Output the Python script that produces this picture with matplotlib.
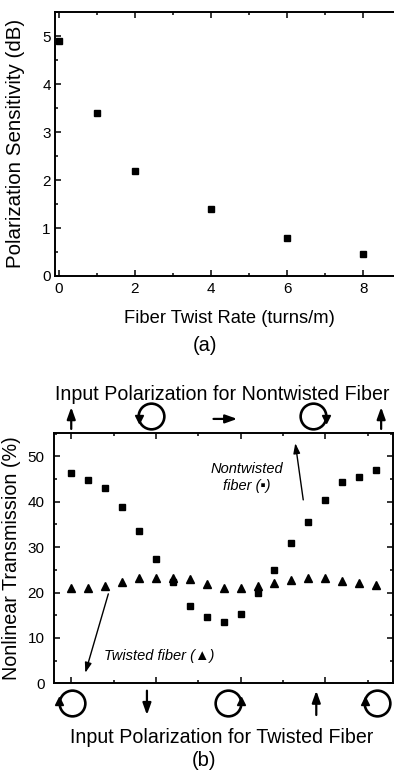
#!/usr/bin/env python3
"""Polarization sensitivity vs twist rate (a) and nonlinear transmission vs input polarization (b)."""

import matplotlib
matplotlib.use("Agg")
import matplotlib.pyplot as plt
import matplotlib.transforms as mtransforms
from matplotlib.ticker import MultipleLocator

plt.rcParams["font.family"] = ["Liberation Sans", "DejaVu Sans"]

# (a) polarization sensitivity
twist_rate = [0, 1, 2, 4, 6, 8]
pol_sensitivity = [4.9, 3.4, 2.2, 1.4, 0.8, 0.45]

# (b) nonlinear transmission, 19 input polarization states
pol_index = list(range(19))
nontwisted = [46.3, 44.7, 43.0, 38.8, 33.5, 27.3, 22.3, 17.1, 14.6, 13.6,
              15.3, 19.8, 25.0, 31.0, 35.6, 40.3, 44.4, 45.5, 47.0]
twisted = [20.9, 21.1, 21.5, 22.4, 23.2, 23.3, 23.3, 22.9, 21.8, 20.9,
           20.9, 21.4, 22.0, 22.7, 23.2, 23.2, 22.5, 22.1, 21.6]

# polarization state symbols (x in index units)
top_up_arrows = [0.0, 18.3]
top_right_arrow = [8.4, 9.8]
top_circles = [4.73, 14.3]
top_circle_dir = ["ccw", "cw"]
bottom_circles = [0.04, 9.27, 18.06]
bottom_circle_dir = ["cw", "ccw", "cw"]
bottom_down_arrows = [4.47]
bottom_up_arrows = [14.47]


def style_axes(ax):
    for sp in ax.spines.values():
        sp.set_linewidth(1.4)
    ax.tick_params(which="both", direction="in", top=True, right=True, width=1.1)
    ax.tick_params(which="major", length=4.5)
    ax.tick_params(which="minor", length=2.5)


def main():
    fig = plt.figure(figsize=(3.94, 7.77), dpi=100)
    W, H = 394.0, 777.0

    # ---------- (a) ----------
    ax1 = fig.add_axes([55 / W, 1 - 276 / H, 339 / W, (276 - 11.5) / H])
    ax1.plot(twist_rate, pol_sensitivity, "s", color="black", ms=4.8)
    ax1.set_xlim(-0.1, 8.81)
    ax1.set_ylim(0, 5.52)
    ax1.xaxis.set_major_locator(MultipleLocator(2))
    ax1.xaxis.set_minor_locator(MultipleLocator(1))
    ax1.yaxis.set_major_locator(MultipleLocator(1))
    ax1.yaxis.set_minor_locator(MultipleLocator(0.5))
    style_axes(ax1)
    ax1.spines["right"].set_visible(False)
    ax1.tick_params(which="both", right=False)
    ax1.tick_params(axis="x", pad=4, labelsize=11)
    ax1.tick_params(axis="y", pad=3, labelsize=11)
    ax1.set_ylabel("Polarization Sensitivity (dB)", fontsize=14.8)
    ax1.yaxis.set_label_coords(-0.088, 0.5)
    fig.text(229 / W, 1 - 322.7 / H, "Fiber Twist Rate (turns/m)", fontsize=13.2,
             ha="center", va="baseline")
    fig.text(205 / W, 1 - 351 / H, "(a)", fontsize=14.5, ha="center", va="baseline")

    # ---------- (b) ----------
    ax2 = fig.add_axes([54.3 / W, 1 - 683.3 / H, 338.7 / W, 250.6 / H])
    ax2.plot(pol_index, nontwisted, "s", color="black", ms=4.8)
    ax2.plot(pol_index, twisted, "^", color="black", ms=5.8)
    ax2.set_xlim(-1, 19)
    ax2.set_ylim(0, 55.2)
    ax2.xaxis.set_major_locator(MultipleLocator(5))
    ax2.xaxis.set_minor_locator(MultipleLocator(2.5))
    ax2.yaxis.set_major_locator(MultipleLocator(10))
    ax2.yaxis.set_minor_locator(MultipleLocator(5))
    style_axes(ax2)
    ax2.tick_params(axis="x", labelbottom=False)
    ax2.tick_params(axis="y", pad=7, labelsize=11)
    ax2.set_ylabel("Nonlinear Transmission (%)", fontsize=14.2)
    ax2.yaxis.set_label_coords(-0.098, 0.5)

    fig.text(222.5 / W, 1 - 400 / H, "Input Polarization for Nontwisted Fiber",
             fontsize=14.1, ha="center", va="baseline")
    fig.text(221.7 / W, 1 - 742.7 / H, "Input Polarization for Twisted Fiber",
             fontsize=14.1, ha="center", va="baseline")
    fig.text(204 / W, 1 - 766 / H, "(b)", fontsize=14.5, ha="center", va="baseline")

    # annotations inside the plot
    ax2.text(10.35, 45.3, "Nontwisted\nfiber (\u25aa)", style="italic", fontsize=10.5,
             ha="center", va="center", linespacing=1.25)
    ax2.annotate("", xy=(13.23, 52.9), xytext=(13.7, 40.4),
                 arrowprops=dict(arrowstyle="-|>,head_length=0.6,head_width=0.2",
                                 color="black", lw=1.0, shrinkA=0, shrinkB=0))
    ax2.text(5.2, 6.0, "Twisted fiber (\u25b2)", style="italic", fontsize=10.5,
             ha="center", va="center")
    ax2.annotate("", xy=(0.83, 2.3), xytext=(2.19, 19.7),
                 arrowprops=dict(arrowstyle="-|>,head_length=0.6,head_width=0.2",
                                 color="black", lw=1.0, shrinkA=0, shrinkB=0))

    # polarization state symbols above and below the axes
    trans = mtransforms.blended_transform_factory(ax2.transData, ax2.transAxes)
    arrow_kw = dict(arrowstyle="-|>,head_length=0.7,head_width=0.25",
                    color="black", lw=1.6, shrinkA=0, shrinkB=0)
    for x in top_up_arrows:
        ax2.annotate("", xy=(x, 1.102), xytext=(x, 1.015), xycoords=trans,
                     textcoords=trans, arrowprops=arrow_kw, annotation_clip=False)
    ax2.annotate("", xy=(top_right_arrow[1], 1.055), xytext=(top_right_arrow[0], 1.055),
                 xycoords=trans, textcoords=trans, arrowprops=arrow_kw,
                 annotation_clip=False)
    for x in bottom_down_arrows:
        ax2.annotate("", xy=(x, -0.1265), xytext=(x, -0.0295), xycoords=trans,
                     textcoords=trans, arrowprops=arrow_kw, annotation_clip=False)
    for x in bottom_up_arrows:
        ax2.annotate("", xy=(x, -0.0295), xytext=(x, -0.1265), xycoords=trans,
                     textcoords=trans, arrowprops=arrow_kw, annotation_clip=False)

    def circles(xs, dirs, y, head_ccw, head_cw):
        for x, d in zip(xs, dirs):
            ax2.plot([x], [y], marker="o", ms=18.5, mfc="none", mec="black", mew=1.9,
                     transform=trans, clip_on=False)
            side, mk = head_ccw if d == "ccw" else head_cw
            ax2.plot([x + side * 0.74], [y - 0.012 if mk == "v" else y + 0.006],
                     marker=mk, ms=5.5, color="black", transform=trans, clip_on=False)

    # counterclockwise: left side heads down; clockwise: left side heads up
    circles(top_circles, top_circle_dir, 1.065, (-1, "v"), (1, "v"))
    circles(bottom_circles, bottom_circle_dir, -0.0786, (1, "^"), (-1, "^"))

    fig.savefig("out.png", dpi=100, facecolor="white")
    plt.close(fig)


if __name__ == "__main__":
    main()
